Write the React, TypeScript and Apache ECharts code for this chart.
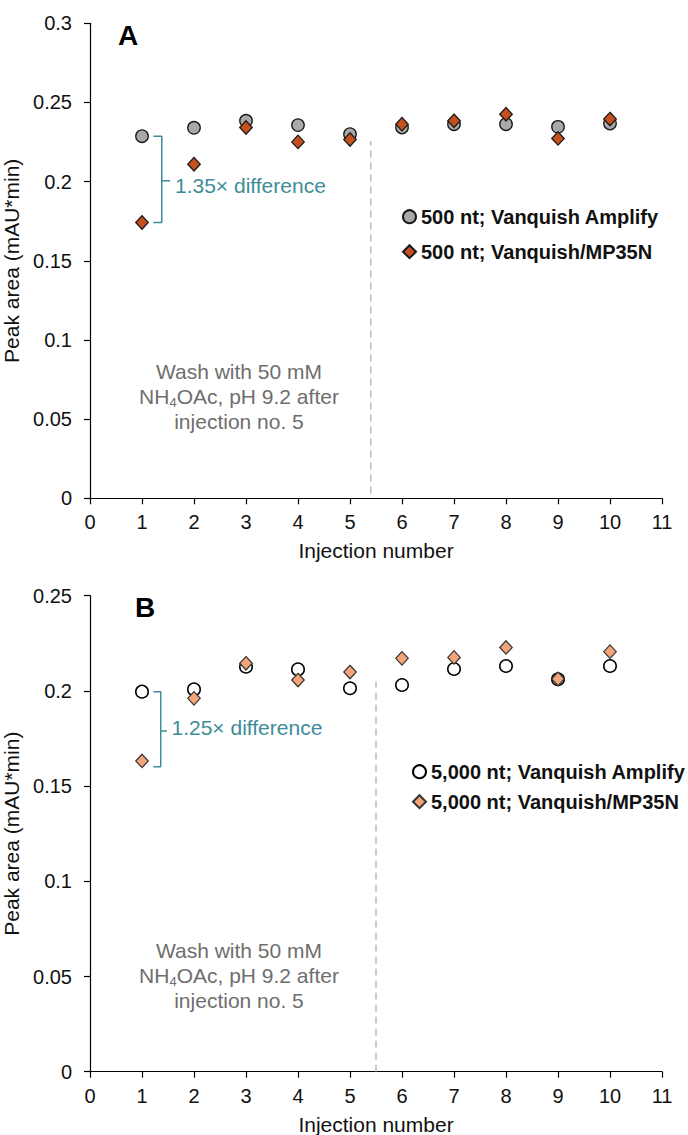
import React, { useEffect, useRef } from "react";
import * as echarts from "echarts";

// ---- data ----
const injections = [1, 2, 3, 4, 5, 6, 7, 8, 9, 10];
const aAmplify = [0.2287, 0.234, 0.2384, 0.2357, 0.23, 0.2342, 0.2363, 0.2363, 0.2346, 0.2367];
const aMP35N = [0.1742, 0.211, 0.2342, 0.2251, 0.2266, 0.2363, 0.2384, 0.2426, 0.2273, 0.2395];
const bAmplify = [0.1996, 0.2008, 0.2127, 0.2113, 0.2014, 0.2031, 0.2115, 0.2131, 0.2061, 0.2131];
const bMP35N = [0.1632, 0.1961, 0.2145, 0.2057, 0.2099, 0.2171, 0.2176, 0.2228, 0.2063, 0.2206];

const seriesNames = [
  "500 nt; Vanquish Amplify",
  "500 nt; Vanquish/MP35N",
  "5,000 nt; Vanquish Amplify",
  "5,000 nt; Vanquish/MP35N",
];

// wash marker (injection position, y-range) per panel
const washA = [[5.4, 0.003], [5.4, 0.2256]];
const washB = [[5.5, 0], [5.5, 0.2048]];
// difference brackets
const bracketA = [[1.22, 0.2287], [1.38, 0.2287], [1.38, 0.1742], [1.22, 0.1742]];
const bracketATick = [[1.38, 0.2006], [1.54, 0.2006]];
const bracketB = [[1.22, 0.1996], [1.36, 0.1996], [1.36, 0.1602], [1.22, 0.1602]];
const bracketBTick = [[1.36, 0.1789], [1.48, 0.1789]];

const yTicksA = { min: 0, max: 0.3, interval: 0.05 };
const yTicksB = { min: 0, max: 0.25, interval: 0.05 };

const FONT = "'Liberation Sans', Arial, Helvetica, sans-serif";
const TEAL = "#3d8d98";
const GRAY_TXT = "#6e6e6e";

function xAxis(gridIndex: number) {
  return {
    type: "value",
    gridIndex,
    min: 0,
    max: 11,
    interval: 1,
    name: "Injection number",
    nameLocation: "middle",
    nameGap: 42,
    nameTextStyle: { fontFamily: FONT, fontSize: 21, color: "#111" },
    axisLine: { show: true, onZero: false, lineStyle: { color: "#000", width: 1.2 } },
    axisTick: { show: true, length: 6, lineStyle: { color: "#000", width: 1.2 } },
    axisLabel: { fontFamily: FONT, fontSize: 20, color: "#111", margin: 14 },
    splitLine: { show: false },
  };
}

function yAxis(gridIndex: number, t: { min: number; max: number; interval: number }) {
  return {
    type: "value",
    gridIndex,
    min: t.min,
    max: t.max,
    interval: t.interval,
    name: "Peak area (mAU*min)",
    nameLocation: "middle",
    nameGap: 57,
    nameRotate: 90,
    nameTextStyle: { fontFamily: FONT, fontSize: 21, color: "#111" },
    axisLine: { show: true, lineStyle: { color: "#000", width: 1.2 } },
    axisTick: { show: true, length: 6, lineStyle: { color: "#000", width: 1.2 } },
    axisLabel: { fontFamily: FONT, fontSize: 20, color: "#111", margin: 18 },
    splitLine: { show: false },
  };
}

function pairs(xs: number[], ys: number[]) {
  return xs.map((x, i) => [x, ys[i]]);
}

function lineSeries(idx: number, data: number[][], color: string, width: number, type: any) {
  return {
    type: "line",
    xAxisIndex: idx,
    yAxisIndex: idx,
    data,
    symbol: "none",
    silent: true,
    lineStyle: { color, width, type },
    z: 1,
  };
}

function washText(x: number, y: number, subLH: number) {
  return {
    type: "text",
    x,
    y,
    style: {
      text: "Wash with 50 mM\nNH{s|4}OAc, pH 9.2 after\ninjection no. 5",
      fontFamily: FONT,
      fontSize: 21,
      fill: GRAY_TXT,
      align: "center",
      verticalAlign: "middle",
      lineHeight: 25,
      rich: {
        s: { fontFamily: FONT, fontSize: 13, fill: GRAY_TXT, verticalAlign: "bottom", lineHeight: subLH },
      },
    },
  };
}

export default function App() {
  const ref = useRef<HTMLDivElement>(null);
  useEffect(() => {
    document.body.style.margin = "0";
    if (!ref.current) return;
    const chart = echarts.init(ref.current, null, { renderer: "svg" });
    const option: any = {
      animation: false,
      backgroundColor: "#fff",
      textStyle: { fontFamily: FONT },
      grid: [
        { left: 90, top: 23.3, width: 572, height: 475, containLabel: false, outerBoundsMode: "none" },
        { left: 90, top: 595.7, width: 572, height: 476, containLabel: false, outerBoundsMode: "none" },
      ],
      xAxis: [xAxis(0), xAxis(1)],
      yAxis: [yAxis(0, yTicksA), yAxis(1, yTicksB)],
      legend: [
        {
          orient: "vertical",
          left: 397,
          top: 201.7,
          itemGap: 15,
          itemWidth: 13,
          itemHeight: 13,
          selectedMode: false,
          textStyle: { fontFamily: FONT, fontSize: 20, fontWeight: "bold", color: "#111" },
          data: [
            { name: seriesNames[0], icon: "circle" },
            { name: seriesNames[1], icon: "diamond" },
          ],
        },
        {
          orient: "vertical",
          left: 407,
          top: 756.7,
          itemGap: 10,
          itemWidth: 13,
          itemHeight: 13,
          selectedMode: false,
          textStyle: { fontFamily: FONT, fontSize: 20, fontWeight: "bold", color: "#111" },
          data: [
            { name: seriesNames[2], icon: "circle" },
            { name: seriesNames[3], icon: "diamond" },
          ],
        },
      ],
      series: [
        lineSeries(0, washA, "#aaaaaa", 1.2, [7, 5]),
        lineSeries(1, washB, "#aaaaaa", 1.2, [7, 5]),
        lineSeries(0, bracketA, TEAL, 1.5, "solid"),
        lineSeries(0, bracketATick, TEAL, 1.5, "solid"),
        lineSeries(1, bracketB, TEAL, 1.5, "solid"),
        lineSeries(1, bracketBTick, TEAL, 1.5, "solid"),
        {
          name: seriesNames[0],
          type: "scatter",
          xAxisIndex: 0,
          yAxisIndex: 0,
          symbol: "circle",
          symbolSize: 12.5,
          data: pairs(injections, aAmplify),
          itemStyle: { color: "#a9a9a9", borderColor: "#1a1a1a", borderWidth: 1.3, opacity: 1 },
          z: 3,
        },
        {
          name: seriesNames[1],
          type: "scatter",
          xAxisIndex: 0,
          yAxisIndex: 0,
          symbol: "diamond",
          symbolSize: [12.5, 13.5],
          data: pairs(injections, aMP35N),
          itemStyle: { color: "#c5501f", borderColor: "#1a1a1a", borderWidth: 1.3, opacity: 1 },
          z: 4,
        },
        {
          name: seriesNames[2],
          type: "scatter",
          xAxisIndex: 1,
          yAxisIndex: 1,
          symbol: "circle",
          symbolSize: 12.5,
          data: pairs(injections, bAmplify),
          itemStyle: { color: "#ffffff", borderColor: "#000", borderWidth: 1.5, opacity: 1 },
          z: 3,
        },
        {
          name: seriesNames[3],
          type: "scatter",
          xAxisIndex: 1,
          yAxisIndex: 1,
          symbol: "diamond",
          symbolSize: [12.5, 13.5],
          data: pairs(injections, bMP35N),
          itemStyle: { color: "#f3a57a", borderColor: "#333", borderWidth: 1.2, opacity: 1 },
          z: 4,
        },
      ],
      graphic: [
        {
          type: "text",
          x: 128,
          y: 35,
          style: { text: "A", fontFamily: FONT, fontSize: 28, fontWeight: "bold", fill: "#000", align: "center", verticalAlign: "middle" },
        },
        {
          type: "text",
          x: 145,
          y: 607,
          style: { text: "B", fontFamily: FONT, fontSize: 28, fontWeight: "bold", fill: "#000", align: "center", verticalAlign: "middle" },
        },
        {
          type: "text",
          x: 175,
          y: 185,
          style: { text: "1.35× difference", fontFamily: FONT, fontSize: 21, fill: TEAL, align: "left", verticalAlign: "middle" },
        },
        {
          type: "text",
          x: 171.5,
          y: 727,
          style: { text: "1.25× difference", fontFamily: FONT, fontSize: 21, fill: TEAL, align: "left", verticalAlign: "middle" },
        },
        washText(239, 396, 17),
        washText(239, 975, 12),
      ],
    };
    chart.setOption(option);
    return () => chart.dispose();
  }, []);
  return <div ref={ref} style={{ width: 688, height: 1135 }} />;
}
